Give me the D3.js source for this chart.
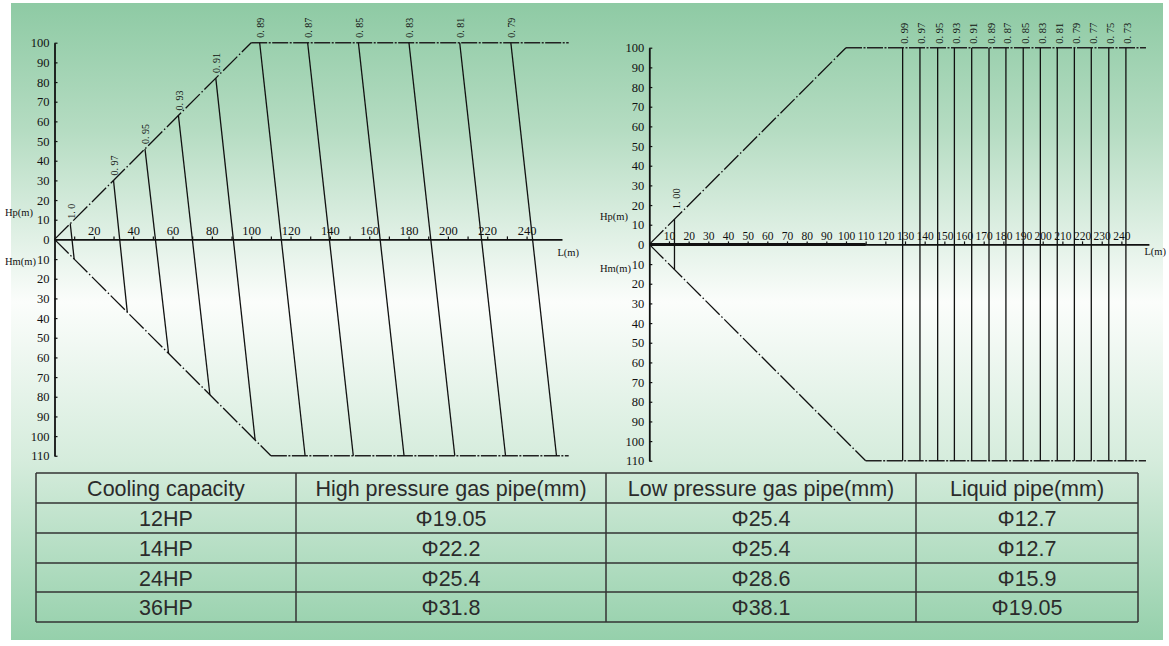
<!DOCTYPE html>
<html><head><meta charset="utf-8">
<script src="https://cdn.jsdelivr.net/npm/d3@7"></script>
<style>body{margin:0;background:#fff}</style>
</head><body>
<svg id="c" width="1169" height="646"></svg>
<script>
// ---------- DATA ----------
// Left chart: equal-coefficient lines (top point on upper envelope, bottom point on lower envelope), L in m
const leftLabels  = ["1. 0","0. 97","0. 95","0. 93","0. 91","0. 89","0. 87","0. 85","0. 83","0. 81","0. 79"];
const leftTopL    = [8, 30, 46, 63, 82, 104.3, 128.7, 154.5, 180.2, 206, 232];
const leftBottomL = [10, 37, 58, 79, 102, 127.4, 151.9, 177.7, 203.5, 229.3, 255.2];
const leftEnvelopeTop    = [[0,0],[100,100],[261.4,100]];
const leftEnvelopeBottom = [[0,0],[110,-110],[261.4,-110]];
const leftXTicks = [20,40,60,80,100,120,140,160,180,200,220,240];

// Right chart: vertical lines
const rightFirstLabel = "1. 00";
const rightFirstL = 12.8;
const rightLabels = ["0. 99","0. 97","0. 95","0. 93","0. 91","0. 89","0. 87","0. 85","0. 83","0. 81","0. 79","0. 77","0. 75","0. 73"];
const rightL      = [128.8, 137.6, 146.6, 155.1, 163.9, 172.7, 181.3, 190.1, 198.8, 207.4, 216.1, 224.7, 233.6, 242.3];
const rightEnvelopeTop    = [[0,0],[100,100],[252.5,100]];
const rightEnvelopeBottom = [[0,0],[110,-110],[252.5,-110]];
const rightXTicks = [10,20,30,40,50,60,70,80,90,100,110,120,130,140,150,160,170,180,190,200,210,220,230,240];

const yTicks = [100,90,80,70,60,50,40,30,20,10,0,-10,-20,-30,-40,-50,-60,-70,-80,-90,-100,-110];

// Table
const tableHeader = ["Cooling capacity","High pressure gas pipe(mm)","Low pressure gas pipe(mm)","Liquid pipe(mm)"];
const capacities   = ["12HP","14HP","24HP","36HP"];
const highPressure = ["Φ19.05","Φ22.2","Φ25.4","Φ31.8"];
const lowPressure  = ["Φ25.4","Φ25.4","Φ28.6","Φ38.1"];
const liquidPipe   = ["Φ12.7","Φ12.7","Φ15.9","Φ19.05"];

// ---------- DRAW ----------
const svg = d3.select("#c");
const defs = svg.append("defs");
const g0 = defs.append("linearGradient").attr("id","bg").attr("x1",0).attr("y1",0).attr("x2",0).attr("y2",1);
[[0,"#8ecaa4"],[0.2,"#b5dcc2"],[0.47,"#fbfdfb"],[0.72,"#d5ecdc"],[1,"#95d0ab"]].forEach(s=>
  g0.append("stop").attr("offset",s[0]).attr("stop-color",s[1]));
svg.append("rect").attr("x",11).attr("y",3).attr("width",1152).attr("height",637).attr("fill","url(#bg)");

const serif = "'Liberation Serif','DejaVu Serif',serif";

function drawChart(cfg){
  const k = 1.967;
  const x = d3.scaleLinear().domain([0,100]).range([cfg.ox, cfg.ox + 100*k]);
  const y = d3.scaleLinear().domain([0,100]).range([cfg.oy, cfg.oy - 100*k]);
  const g = svg.append("g");
  const line = d3.line().x(d=>x(d[0])).y(d=>y(d[1]));

  // y axis
  const ya = d3.axisLeft(y.copy().domain([-110,100]).range([y(-110), y(100)]))
    .tickValues(yTicks).tickFormat(d=>Math.abs(d)).tickSize(-3).tickSizeOuter(0).tickPadding(5);
  const yg = g.append("g").attr("transform",`translate(${cfg.ox},0)`).call(ya);
  yg.select(".domain").attr("stroke","#111").attr("stroke-width",1.8);
  yg.selectAll(".tick line").attr("stroke","#111").attr("stroke-width",1.2);
  yg.selectAll(".tick text").attr("font-family",serif).attr("font-size",12.5).attr("fill","#111");

  // x axis
  const xa = d3.axisTop(x.copy().domain([0,cfg.xEnd]).range([x(0), x(cfg.xEnd)]))
    .tickValues(cfg.minorTicks).tickFormat(d=>cfg.xTicks.includes(d)?d:"").tickSize(3).tickSizeOuter(0).tickPadding(1);
  const xg = g.append("g").attr("transform",`translate(0,${cfg.oy})`).call(xa);
  xg.select(".domain").attr("stroke","#111").attr("stroke-width",1.6);
  xg.selectAll(".tick line").attr("stroke","#111").attr("stroke-width",1.2);
  xg.selectAll(".tick text").attr("font-family",serif).attr("font-size",cfg.xFont).attr("fill","#111");
  if(cfg.boldTo){
    g.append("line").attr("x1",x(0)).attr("x2",x(cfg.boldTo)).attr("y1",y(0)).attr("y2",y(0))
      .attr("stroke","#111").attr("stroke-width",3);
  }

  // envelopes
  [cfg.envTop, cfg.envBottom].forEach(env=>{
    g.append("path").attr("d",line(env.slice(0,2))).attr("fill","none").attr("stroke","#111")
      .attr("stroke-width",1.3).attr("stroke-dasharray","20,2.5,1.5,2.5");
    g.append("path").attr("d",line(env.slice(1))).attr("fill","none").attr("stroke","#222")
      .attr("stroke-width",1.5).attr("stroke-dasharray","16,1.5,2,1.5");
  });

  // coefficient lines
  cfg.lines.forEach((l,i)=>{
    g.append("line").attr("x1",x(l.t[0])).attr("y1",y(l.t[1])).attr("x2",x(l.b[0])).attr("y2",y(l.b[1]))
      .attr("stroke","#111").attr("stroke-width",1.3);
    const gap = (cfg.firstGap && i===0) ? cfg.firstGap : cfg.lblGap;
    g.append("text").attr("transform",`translate(${x(l.t[0])+cfg.lblDx},${y(l.t[1])-gap}) rotate(-90)`)
      .attr("font-family",serif).attr("font-size",cfg.lblSize).attr("fill","#111").text(l.label);
  });

  // axis titles
  const t = (tx,ty,s,anchor)=>g.append("text").attr("x",tx).attr("y",ty).attr("font-family",serif)
    .attr("font-size",10.5).attr("fill","#111").attr("text-anchor",anchor||"start").attr("dominant-baseline","middle").text(s);
  t(cfg.hpPos[0],cfg.hpPos[1],"Hp(m)");
  t(cfg.hmPos[0],cfg.hmPos[1],"Hm(m)");
  t(cfg.lPos[0],cfg.lPos[1],"L(m)","end");
}

const lines1 = leftLabels.map((lab,i)=>({label:lab,
  t:[leftTopL[i], Math.min(leftTopL[i],100)],
  b:[leftBottomL[i], -Math.min(leftBottomL[i],110)]}));
drawChart({ox:54.5, oy:239.4, xEnd:258, xTicks:leftXTicks, minorTicks:d3.range(10,250,10), xFont:12.5,
  envTop:leftEnvelopeTop, envBottom:leftEnvelopeBottom, lines:lines1, lblDx:4.5, lblGap:5, lblSize:10,
  hpPos:[5,214], hmPos:[5,263], lPos:[579,254]});

const lines2 = [{label:rightFirstLabel, t:[rightFirstL,rightFirstL], b:[rightFirstL,-rightFirstL]}]
  .concat(rightLabels.map((lab,i)=>({label:lab, t:[rightL[i],100], b:[rightL[i],-110]})));
drawChart({ox:649.3, oy:244.4, xEnd:254, xTicks:rightXTicks, minorTicks:rightXTicks, boldTo:110, xFont:11.5,
  envTop:rightEnvelopeTop, envBottom:rightEnvelopeBottom, lines:lines2, lblDx:5.5, lblGap:4, firstGap:10, lblSize:10.5,
  hpPos:[600,218], hmPos:[600,270], lPos:[1166,253]});

// ---------- TABLE ----------
const colX = [36,296,606,916,1138];
const rowY = [473,503,533,563,592,622];
const tg = svg.append("g");
const rows = [tableHeader].concat(capacities.map((c,i)=>[c, highPressure[i], lowPressure[i], liquidPipe[i]]));
rowY.forEach(yv=>tg.append("line").attr("x1",colX[0]).attr("x2",colX[4]).attr("y1",yv).attr("y2",yv)
  .attr("stroke","#333").attr("stroke-width",1.5));
colX.forEach(xv=>tg.append("line").attr("x1",xv).attr("x2",xv).attr("y1",rowY[0]).attr("y2",rowY[5])
  .attr("stroke","#333").attr("stroke-width",1.5));
rows.forEach((r,ri)=>r.forEach((cell,ci)=>{
  tg.append("text").attr("x",(colX[ci]+colX[ci+1])/2).attr("y",(rowY[ri]+rowY[ri+1])/2+1)
    .attr("text-anchor","middle").attr("dominant-baseline","central")
    .attr("font-family","'Liberation Sans',Arial,sans-serif").attr("font-size",21.5).attr("fill","#2b2b2b").text(cell);
}));
</script>
</body></html>
